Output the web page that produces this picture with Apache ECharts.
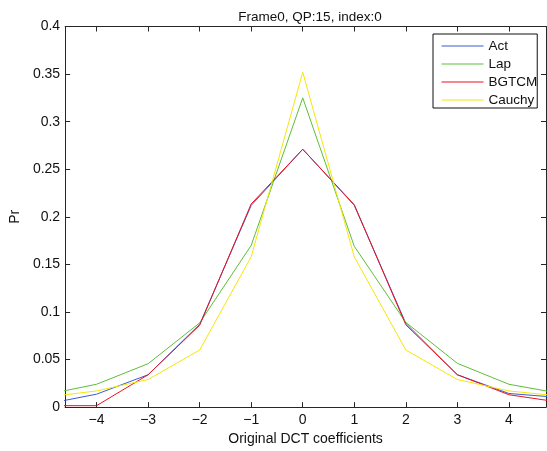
<!DOCTYPE html>
<html>
<head>
<meta charset="utf-8">
<script src="https://cdn.jsdelivr.net/npm/echarts@6/dist/echarts.min.js"></script>
<style>
html,body{margin:0;padding:0;background:#fff;}
#c{width:547px;height:451px;}
</style>
</head>
<body>
<div id="c"></div>
<script>
var xValues = [-5, -4, -3, -2, -1, 0, 1, 2, 3, 4, 5];
var act    = [0.003, 0.0136, 0.034, 0.087, 0.212, 0.271, 0.212, 0.088, 0.034, 0.0143, 0.010];
var lap    = [0.013, 0.024, 0.0456, 0.0885, 0.170, 0.325, 0.169, 0.089, 0.046, 0.024, 0.0143];
var bgtcm  = [0.0015, 0.0015, 0.034, 0.086, 0.2135, 0.271, 0.2127, 0.0865, 0.034, 0.013, 0.005];
var cauchy = [0.0104, 0.017, 0.029, 0.060, 0.158, 0.352, 0.158, 0.060, 0.029, 0.017, 0.0115];
var xTicks = [-4, -3, -2, -1, 0, 1, 2, 3, 4];
var seriesNames = ['Act', 'Lap', 'BGTCM', 'Cauchy'];
var seriesColors = ['#3a5bd0', '#5cbf3a', '#e8141e', '#f5e60a'];
var titleText = 'Frame0, QP:15, index:0';
var xLabel = 'Original DCT coefficients';
var yLabel = 'Pr';

function pairs(vals) {
  return xValues.map(function (x, i) { return [x, vals[i]]; });
}
var allVals = [act, lap, bgtcm, cauchy];
var FONT = 'Liberation Sans, Arial, sans-serif';
var axisCol = '#262626';

var chart = echarts.init(document.getElementById('c'), null, {renderer: 'canvas'});
var xMin = -4.61, xMax = 4.72;
chart.setOption({
  backgroundColor: '#fff',
  animation: false,
  title: {
    text: titleText,
    left: 305, top: 5, textAlign: 'center',
    textStyle: {fontFamily: FONT, fontSize: 13.5, fontWeight: 'normal', color: '#111'}
  },
  legend: {
    orient: 'vertical',
    left: 433, top: 34,
    data: seriesNames,
    itemWidth: 42, itemHeight: 14, itemGap: 4,
    padding: [5, 0, 1, 8],
    borderColor: '#111', borderWidth: 1,
    backgroundColor: '#fff',
    itemStyle: {opacity: 0},
    lineStyle: {width: 1},
    textStyle: {fontFamily: FONT, fontSize: 13.5, color: '#111'}
  },
  grid: {left: 62.5, right: 1, top: 26.5, bottom: 41.5, containLabel: false},
  xAxis: [{
    type: 'value', min: xMin, max: xMax, position: 'bottom',
    name: xLabel, nameLocation: 'middle', nameGap: 21,
    nameTextStyle: {fontFamily: FONT, fontSize: 14, color: '#111', verticalAlign: 'top'},
    axisLine: {show: true, lineStyle: {color: axisCol, width: 1}},
    axisTick: {show: true, inside: true, length: 5, customValues: xTicks, lineStyle: {color: axisCol}},
    axisLabel: {show: true, customValues: xTicks, margin: 6, fontFamily: FONT, fontSize: 14, color: '#111',
      formatter: function (v) { return String(v).replace('-', '\u2212'); }},
    splitLine: {show: false}
  }, {
    type: 'value', min: xMin, max: xMax, position: 'top',
    axisLine: {show: true, onZero: false, lineStyle: {color: axisCol, width: 1}},
    axisTick: {show: true, inside: true, length: 5, customValues: xTicks, lineStyle: {color: axisCol}},
    axisLabel: {show: false},
    splitLine: {show: false}
  }],
  yAxis: [{
    type: 'value', min: 0, max: 0.4, interval: 0.05, position: 'left',
    name: yLabel, nameLocation: 'middle', nameGap: 42, nameRotate: 90,
    nameTextStyle: {fontFamily: FONT, fontSize: 14, color: '#111'},
    axisLine: {show: true, onZero: false, lineStyle: {color: axisCol, width: 1}},
    axisTick: {show: true, inside: true, length: 5, lineStyle: {color: axisCol}},
    axisLabel: {margin: 5, fontFamily: FONT, fontSize: 14, color: '#111'},
    splitLine: {show: false}
  }, {
    type: 'value', min: 0, max: 0.4, interval: 0.05, position: 'right',
    axisLine: {show: true, onZero: false, lineStyle: {color: axisCol, width: 1}},
    axisTick: {show: true, inside: true, length: 5, lineStyle: {color: axisCol}},
    axisLabel: {show: false},
    splitLine: {show: false}
  }],
  series: seriesNames.map(function (n, i) {
    return {
      name: n, type: 'line', data: pairs(allVals[i]),
      xAxisIndex: 0, yAxisIndex: 0,
      symbol: 'none', clip: true,
      lineStyle: {color: seriesColors[i], width: 1},
      itemStyle: {color: seriesColors[i]},
      z: 2 + i
    };
  })
});
</script>
</body>
</html>
